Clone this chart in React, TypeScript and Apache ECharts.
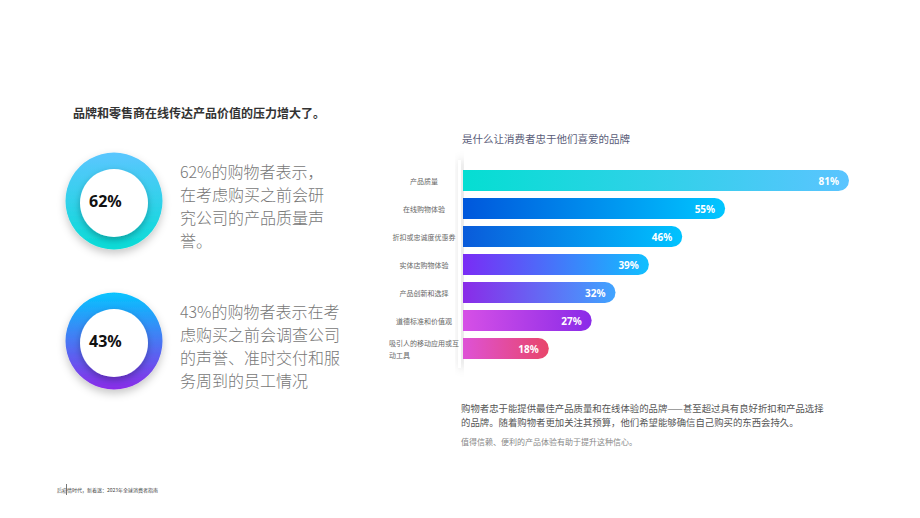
import React, { useEffect, useRef } from "react";
import * as echarts from "echarts";

const categories = [
  "产品质量",
  "在线购物体验",
  "折扣或忠诚度优惠券",
  "实体店购物体验",
  "产品创新和选择",
  "道德标准和价值观",
  "吸引人的移动应用或互动工具",
];
const values = [81, 55, 46, 39, 32, 27, 18];
const barGradients = [
  ["#05DED2", "#5BC4FF"],
  ["#0057DC", "#00C6FF"],
  ["#0A5BDA", "#00C3FF"],
  ["#7A2CF5", "#10C0FF"],
  ["#8A2BE8", "#40A4FF"],
  ["#D650E6", "#8A2BE8"],
  ["#DE52D6", "#E8466A"],
];

const title = "品牌和零售商在线传达产品价值的压力增大了。";
const chartTitle = "是什么让消费者忠于他们喜爱的品牌";
const stat1 = "62%";
const stat1Lines = ["62%的购物者表示，", "在考虑购买之前会研", "究公司的产品质量声", "誉。"];
const stat2 = "43%";
const stat2Lines = ["43%的购物者表示在考", "虑购买之前会调查公司", "的声誉、准时交付和服", "务周到的员工情况"];
const noteLines = [
  "购物者忠于能提供最佳产品质量和在线体验的品牌——甚至超过具有良好折扣和产品选择",
  "的品牌。随着购物者更加关注其预算，他们希望能够确信自己购买的东西会持久。",
];
const noteSmall = "值得信赖、便利的产品体验有助于提升这种信心。";
const footer = "后疫情时代，新着迷：2023年全球消费者指南";

const FONT = '"Noto Sans CJK SC", "Noto Sans", sans-serif';

function lin(c1: string, c2: string, vertical: boolean) {
  return {
    type: "linear",
    x: 0,
    y: 0,
    x2: vertical ? 0 : 1,
    y2: vertical ? 1 : 0,
    colorStops: [
      { offset: 0, color: c1 },
      { offset: 1, color: c2 },
    ],
  };
}

function ring(cx: number, cy: number, top: string, bottom: string, label: string) {
  return [
    {
      type: "circle",
      shape: { cx, cy, r: 48.5 },
      style: {
        fill: lin(top, bottom, true),
        shadowBlur: 8,
        shadowOffsetY: 4,
        shadowColor: "rgba(0,0,0,0.22)",
      },
      z: 1,
    },
    {
      type: "circle",
      shape: { cx, cy: cy + 2, r: 34 },
      style: {
        fill: "#ffffff",
        shadowBlur: 7,
        shadowOffsetY: 3,
        shadowColor: "rgba(0,0,0,0.28)",
      },
      z: 2,
    },
    {
      type: "text",
      x: 89,
      y: cy,
      style: {
        text: label,
        font: 'bold 16px "Noto Sans", sans-serif',
        fill: "#111",
        verticalAlign: "middle",
        align: "left",
      },
      z: 3,
    },
  ];
}

export default function App() {
  const ref = useRef<HTMLDivElement>(null);
  useEffect(() => {
    document.body.style.margin = "0";
    const chart = echarts.init(ref.current!, null, { renderer: "svg" });
    const graphics: any[] = [];
    graphics.push({
      type: "text",
      x: 73,
      y: 112,
      style: { text: title, font: `bold 12px ${FONT}`, fill: "#333", verticalAlign: "middle" },
    });
    graphics.push(...ring(114, 201, "#5BC6FF", "#08DCD6", stat1));
    graphics.push(...ring(114, 341, "#05C4FF", "#8A2BE8", stat2));
    stat1Lines.forEach((t, i) =>
      graphics.push({
        type: "text",
        x: 180,
        y: 171 + i * 23,
        style: { text: t, font: `300 16px ${FONT}`, fill: "#777", verticalAlign: "middle" },
      })
    );
    stat2Lines.forEach((t, i) =>
      graphics.push({
        type: "text",
        x: 180,
        y: 311 + i * 23,
        style: { text: t, font: `300 16px ${FONT}`, fill: "#777", verticalAlign: "middle" },
      })
    );
    graphics.push({
      type: "text",
      x: 462,
      y: 138,
      style: { text: chartTitle, font: `10.5px ${FONT}`, fill: "#5a5c78", verticalAlign: "middle" },
    });
    graphics.push({
      type: "rect",
      shape: { x: 458, y: 160, width: 3, height: 208 },
      style: {
        fill: "#ffffff",
        shadowBlur: 10,
        shadowOffsetX: 3,
        shadowColor: "rgba(0,0,0,0.3)",
      },
      z: 0,
    });
    noteLines.forEach((t, i) =>
      graphics.push({
        type: "text",
        x: 461,
        y: 408 + i * 14,
        style: { text: t, font: `9.4px ${FONT}`, fill: "#555", verticalAlign: "middle" },
      })
    );
    graphics.push({
      type: "text",
      x: 461,
      y: 441,
      style: { text: noteSmall, font: `8px ${FONT}`, fill: "#888", verticalAlign: "middle" },
    });
    graphics.push({
      type: "text",
      x: 57,
      y: 489,
      style: { text: footer, font: `5px ${FONT}`, fill: "#444", verticalAlign: "middle" },
    });
    graphics.push({
      type: "line",
      shape: { x1: 66.5, y1: 484, x2: 66.5, y2: 495 },
      style: { stroke: "#555", lineWidth: 0.8 },
    });

    const lastCat = categories[categories.length - 1];

    chart.setOption({
      animation: false,
      backgroundColor: "#ffffff",
      textStyle: { fontFamily: FONT },
      grid: { left: 463, top: 166.5, width: 386, height: 196, containLabel: false },
      xAxis: { type: "value", min: 0, max: 81, show: false },
      yAxis: {
        type: "category",
        data: categories,
        inverse: true,
        axisLine: { show: false },
        axisTick: { show: false },
        axisLabel: {
          fontSize: 7,
          color: "#666",
          width: 72,
          overflow: "break",
          align: "center",
          margin: 39,
          lineHeight: 12,
          padding: [0, 0, 3, 0],
          formatter: (v: string) =>
            v === lastCat ? v.slice(0, 10) + "\n" + v.slice(10) + "\u3000".repeat(7) : v,
        },
      },
      graphic: graphics,
      series: [
        {
          type: "bar",
          barWidth: 21,
          z: 5,
          data: values.map((v, i) => ({
            value: v,
            itemStyle: {
              color: lin(barGradients[i][0], barGradients[i][1], false),
              borderRadius: [0, 10.5, 10.5, 0],
            },
          })),
          label: {
            show: true,
            position: "insideRight",
            distance: 10,
            formatter: "{c}%",
            color: "#fff",
            fontSize: 10,
            fontWeight: "bold",
            fontFamily: '"Noto Sans", sans-serif',
          },
        },
      ],
    });
    return () => chart.dispose();
  }, []);
  return (
    <div
      ref={ref}
      style={{ position: "fixed", left: 0, top: 0, width: 920, height: 518 }}
    />
  );
}
